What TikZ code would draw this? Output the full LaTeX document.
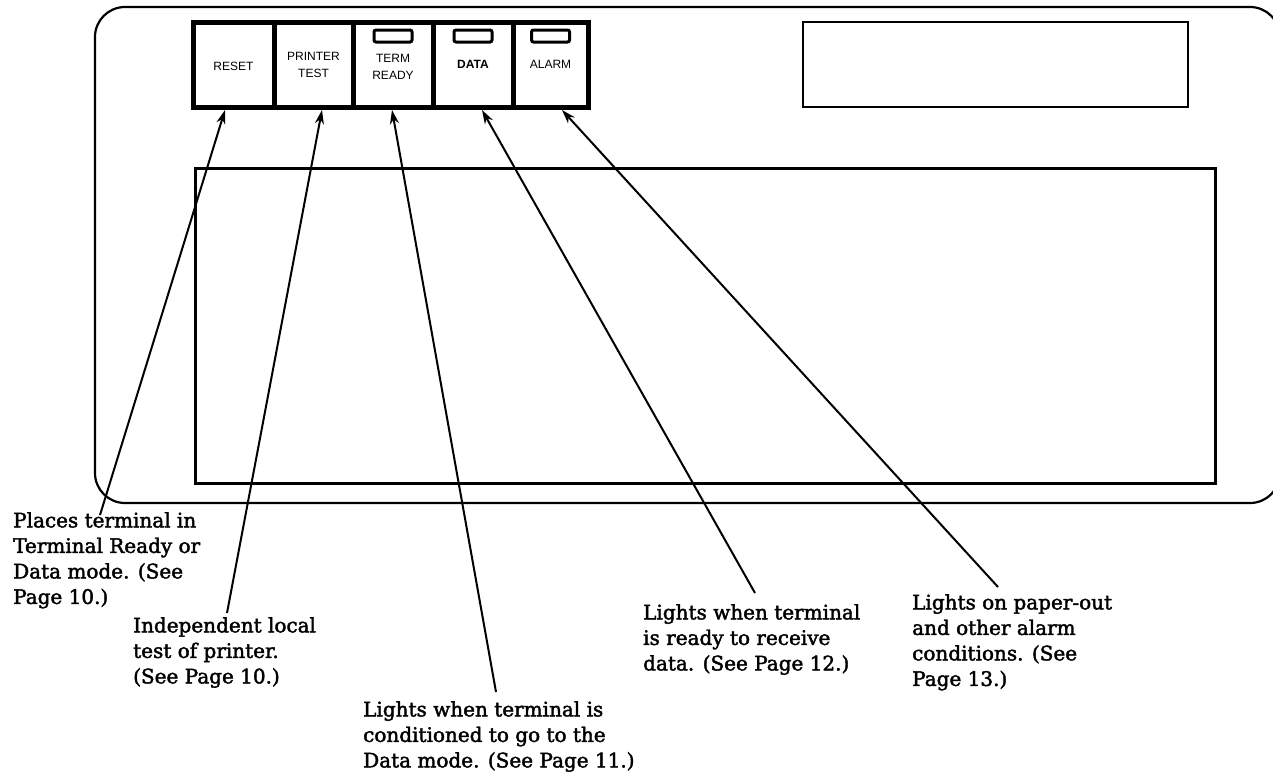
\documentclass[tikz,border=0pt]{standalone}
\usepackage{fontspec}
\setmainfont{DejaVu Serif}
\newfontfamily\notefont{DejaVu Serif}[FakeBold=2]
\newfontfamily\btnfont{Liberation Sans}
\usetikzlibrary{arrows.meta}
\tikzset{
  btn/.style={draw, line width=5pt, inner sep=0pt, outer sep=0pt, minimum height=85pt, align=center, font=\btnfont\fontsize{12}{17}\selectfont},
  lamp/.style={draw, line width=3pt, rounded corners=2pt},
  note/.style={anchor=north west, inner sep=0pt, align=left, font=\notefont\fontsize{20}{25.5}\selectfont},
  arr/.style={line width=2pt, -{Stealth[length=14pt,width=9pt]}},
  frame/.style={line width=2.2pt},
}
\begin{document}
\begin{tikzpicture}[x=1pt,y=-1pt]
\useasboundingbox (0,0) rectangle (1273,771);
\clip (0,0) rectangle (1273,771);
% outer housing
\draw[frame, rounded corners=30pt] (95,7) rectangle (1280,503);
% display windows
\draw[line width=2.2pt] (803,22) rectangle (1188,107);
\draw[line width=3pt] (195,168) rectangle (1215,483);
% buttons
\node[btn, minimum width=81pt] (b1) at (233.5,64.5) {\\[-4pt]RESET};
\node[btn, minimum width=79pt] (b2) at (313.5,64.5) {PRINTER\\TEST};
\node[btn, minimum width=80pt] (b3) at (393,64.5) {\\[-4pt]TERM\\READY};
\node[btn, minimum width=80pt] (b4) at (473,64.5) {\bfseries DATA};
\node[btn, minimum width=75pt] (b5) at (550.5,64.5) {ALARM};
% lamps
\draw[lamp] ([shift={(-19,8)}]b3.north) rectangle ++(38,12);
\draw[lamp] ([shift={(-19,8)}]b4.north) rectangle ++(38,12);
\draw[lamp] ([shift={(-19,8)}]b5.north) rectangle ++(38,12);
% notes
\node[note] (t1) at (13,512) {Places terminal in\\Terminal Ready or\\Data mode. (See\\Page 10.)};
\node[note] (t2) at (133,617) {Independent local\\test of printer.\\(See Page 10.)};
\node[note] (t3) at (363,701) {Lights when terminal is\\conditioned to go to the\\Data mode. (See Page 11.)};
\node[note] (t4) at (643,604) {Lights when terminal\\is ready to receive\\data. (See Page 12.)};
\node[note] (t5) at (912,594) {Lights on paper-out\\and other alarm\\conditions. (See\\Page 13.)};
% leader ends
\coordinate (e1) at (100,515);
\coordinate (e2) at (227,613);
\coordinate (e3) at (496,692);
\coordinate (e4) at (755,593);
\coordinate (e5) at (998,587);
\draw[arr] (e1) -- ([shift={(-8.5,3)}]b1.south);
\draw[arr] (e2) -- ([shift={(8.5,3)}]b2.south);
\draw[arr] (e3) -- ([shift={(-1,3)}]b3.south);
\draw[arr] (e4) -- ([shift={(9,3)}]b4.south);
\draw[arr] (e5) -- ([shift={(11.5,3)}]b5.south);
\end{tikzpicture}
\end{document}
